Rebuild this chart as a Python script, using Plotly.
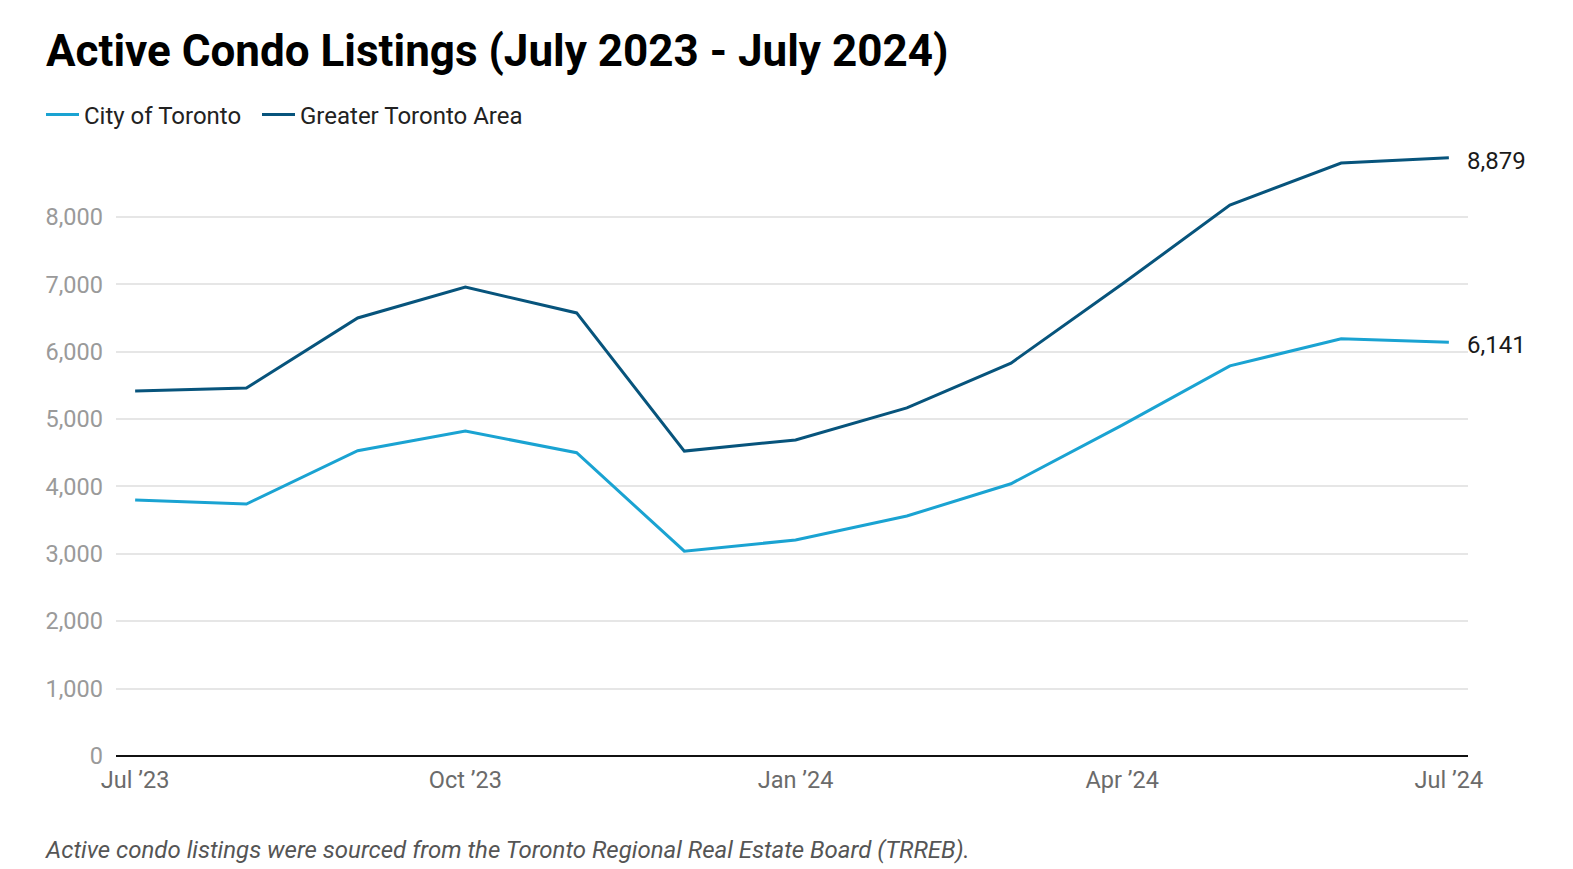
import plotly.graph_objects as go

months = ["2023-07-01", "2023-08-01", "2023-09-01", "2023-10-01", "2023-11-01", "2023-12-01",
          "2024-01-01", "2024-02-01", "2024-03-01", "2024-04-01", "2024-05-01", "2024-06-01", "2024-07-01"]
city_of_toronto = [3798, 3739, 4530, 4822, 4500, 3040, 3205, 3561, 4040, 4911, 5790, 6190, 6141]
greater_toronto = [5415, 5460, 6500, 6958, 6575, 4525, 4690, 5165, 5830, 7003, 8175, 8800, 8879]
x_tickvals = ["2023-07-01", "2023-10-01", "2024-01-01", "2024-04-01", "2024-07-01"]
x_ticktext = ["Jul \u201923", "Oct \u201923", "Jan \u201924", "Apr \u201924", "Jul \u201924"]
y_tickvals = [0, 1000, 2000, 3000, 4000, 5000, 6000, 7000, 8000]

# page body has an 8px margin; figure is sized to fit the window
W, H = 1565, 861
L, R, T, B = 108, 105, 134, 113
pw, ph = W - L - R, H - T - B

c_city = "#1aa3d2"
c_gta = "#07547c"

fig = go.Figure()
fig.add_trace(go.Scatter(x=months, y=city_of_toronto, mode="lines", name="City of Toronto",
                         line=dict(color=c_city, width=3), legend="legend"))
fig.add_trace(go.Scatter(x=months, y=greater_toronto, mode="lines", name="Greater Toronto Area",
                         line=dict(color=c_gta, width=3), legend="legend2"))

for series in (greater_toronto, city_of_toronto):
    fig.add_annotation(x=months[-1], y=series[-1], text=f"{series[-1]:,}", showarrow=False,
                       xanchor="left", yanchor="middle", xshift=16, yshift=-3,
                       font=dict(family="Roboto", size=24, color="#1a1a1a"))

fig.add_annotation(xref="paper", yref="paper", x=(35 - L) / pw, y=(H - B - 843) / ph,
                   text="<i>Active condo listings were sourced from the Toronto Regional Real Estate Board (TRREB).</i>",
                   showarrow=False, xanchor="left", yanchor="middle",
                   font=dict(family="Roboto", size=24, color="#555555"))

legend_common = dict(orientation="h", xref="container", yref="container", y=1 - 107 / H,
                     xanchor="left", yanchor="middle", itemwidth=33,
                     font=dict(family="Roboto", size=24, color="#222222"))

fig.update_layout(
    width=W, height=H,
    margin=dict(l=L, r=R, t=T, b=B),
    paper_bgcolor="white", plot_bgcolor="white",
    title=dict(text="<b>Active Condo Listings (July 2023 - July 2024)</b>",
               xref="container", yref="container", x=38 / W, y=1 - 43 / H,
               xanchor="left", yanchor="middle",
               font=dict(family="Roboto", size=44, color="#000000")),
    legend=dict(x=33 / W, **legend_common),
    legend2=dict(x=249 / W, **legend_common),
    showlegend=True,
    xaxis=dict(type="date", range=["2023-06-25 16:00", "2024-07-06 08:00"],
               tickvals=x_tickvals, ticktext=x_ticktext, showgrid=False,
               showline=False, zeroline=False, ticks="", ticklabelstandoff=7,
               tickfont=dict(family="Roboto", size=23.5, color="#6b6b6b")),
    yaxis=dict(range=[0, 9000], tickvals=y_tickvals, tickformat=",d",
               showgrid=True, gridcolor="#e6e6e6", gridwidth=1.5,
               zeroline=True, zerolinecolor="#111111", zerolinewidth=2,
               showline=False, ticks="", ticklabelstandoff=12,
               tickfont=dict(family="Roboto", size=23.5, color="#9a9a9a")),
    hovermode=False,
)

fig.write_html("out.html")
